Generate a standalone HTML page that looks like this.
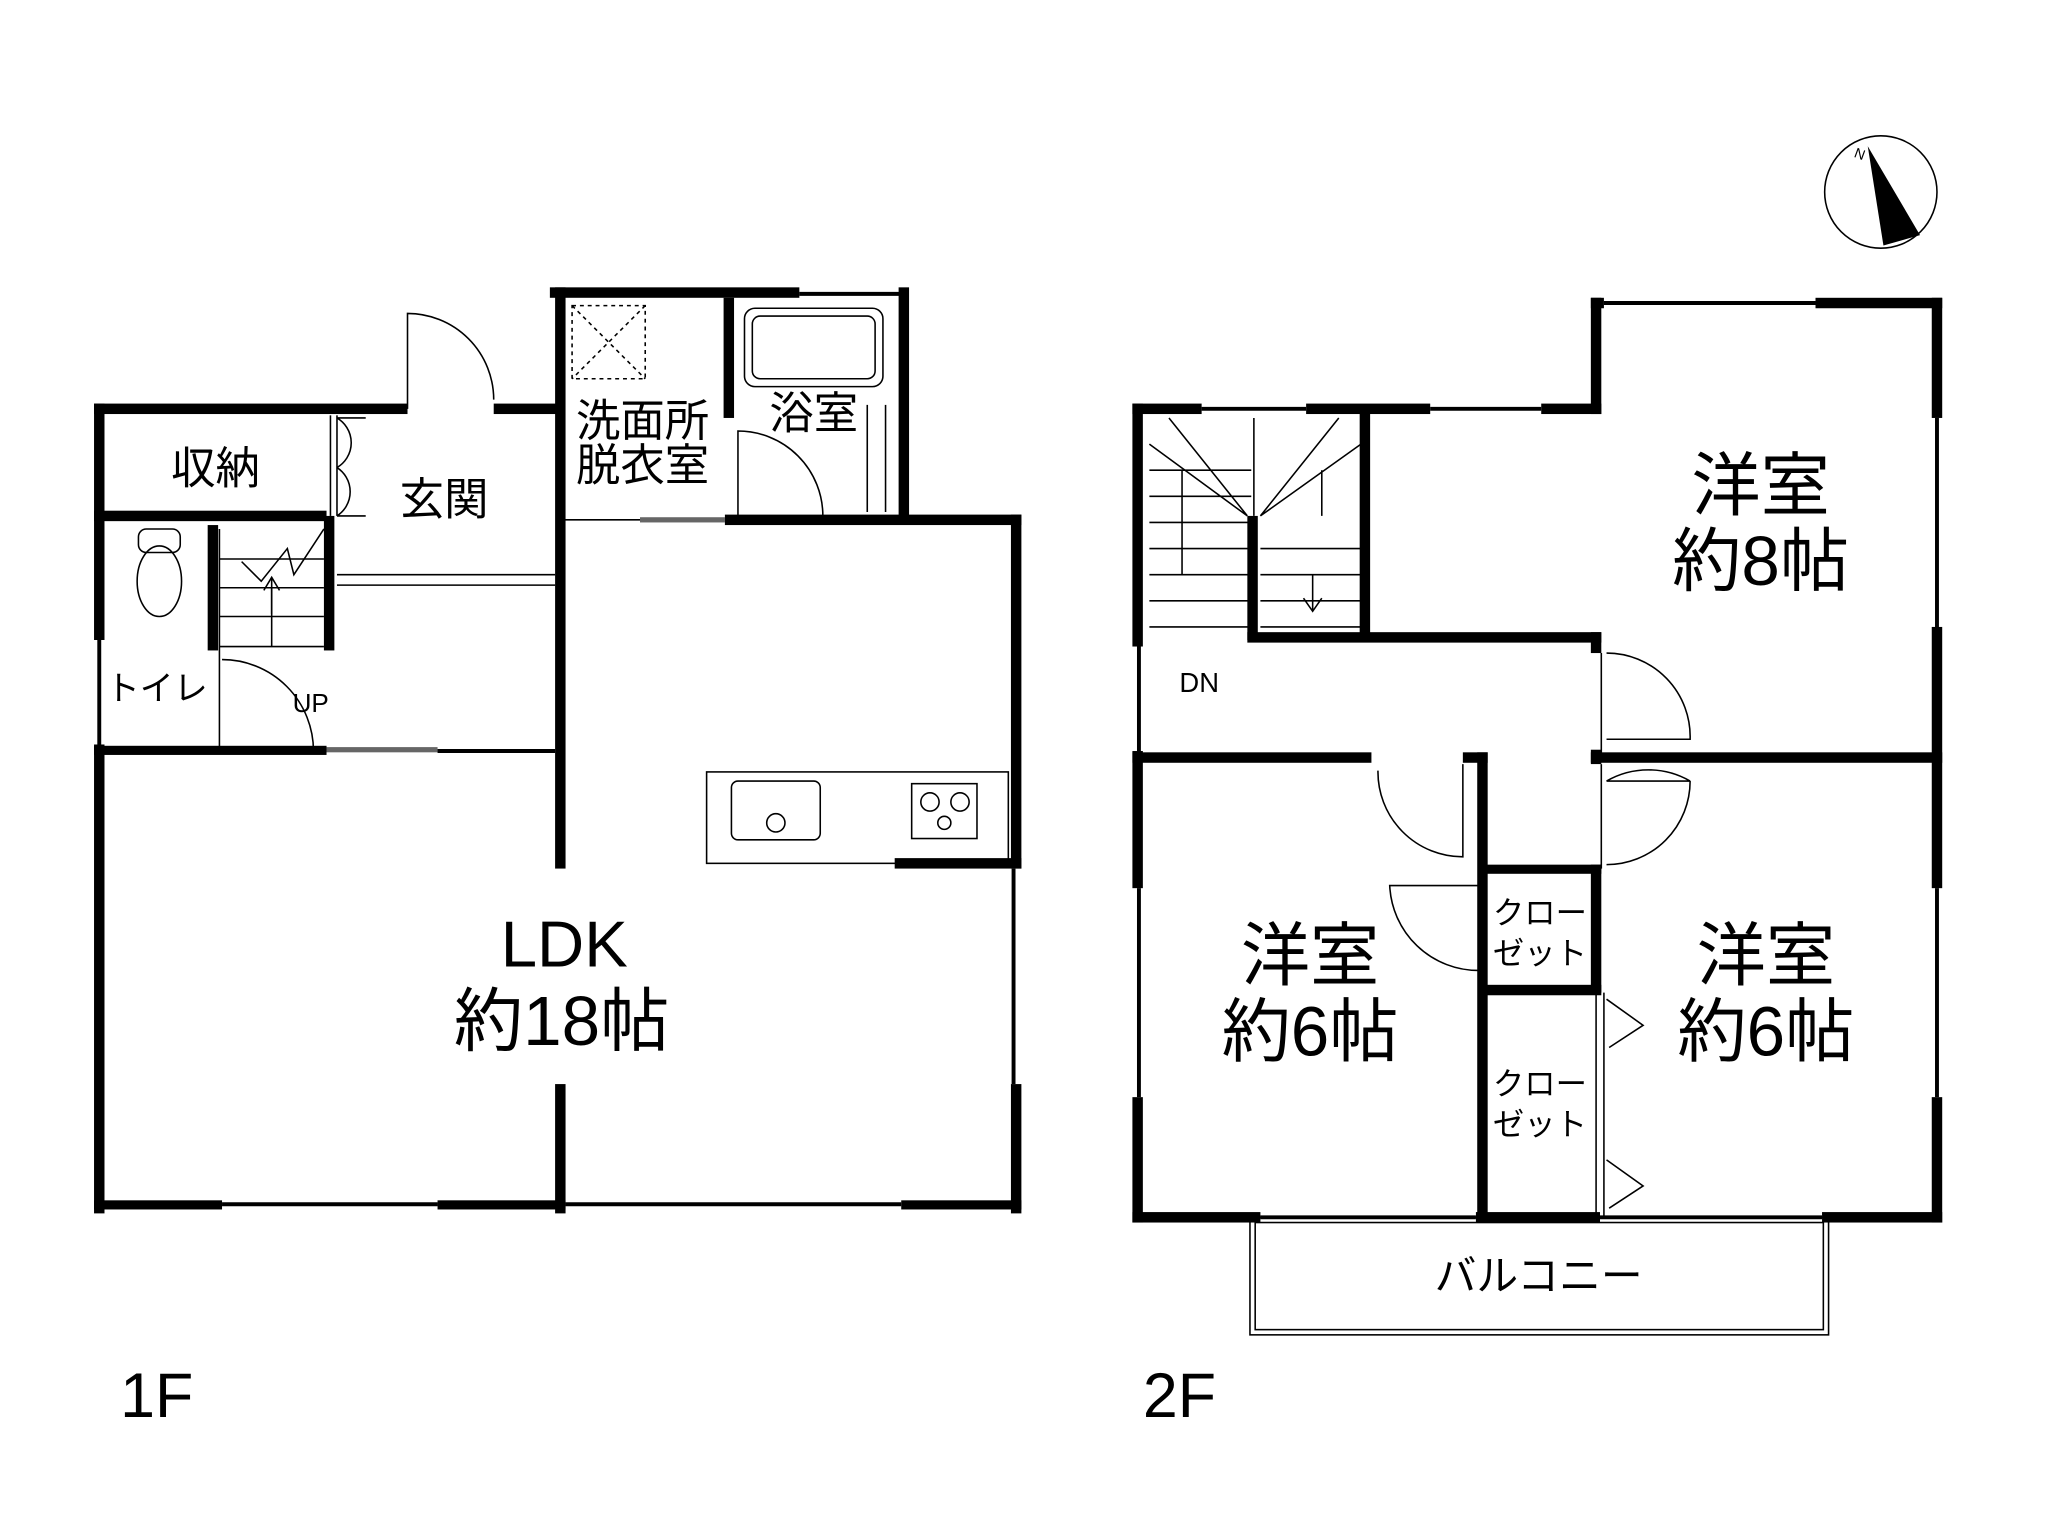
<!DOCTYPE html>
<html><head><meta charset="utf-8"><style>
html,body{margin:0;padding:0;background:#fff;}
svg{display:block;}
text{font-family:"Liberation Sans","Noto Sans CJK JP",sans-serif;fill:#000;}
</style></head><body>
<svg width="2048" height="1536" viewBox="0 0 1568 1176" preserveAspectRatio="xMinYMin meet" xmlns="http://www.w3.org/2000/svg">
<rect width="1568" height="1176" fill="#fff"/>
<g fill="none" stroke="#000" stroke-width="1.2">
<line x1="76" y1="490" x2="76" y2="570" stroke-width="3"/>
<line x1="170" y1="922" x2="335" y2="922" stroke-width="3"/>
<line x1="433" y1="922" x2="690" y2="922" stroke-width="3"/>
<line x1="776" y1="665" x2="776" y2="830" stroke-width="3"/>
<line x1="612" y1="225" x2="692" y2="225" stroke-width="3"/>
<line x1="335" y1="575" x2="425" y2="575" stroke-width="3"/>
<line x1="258" y1="440" x2="425" y2="440"/><line x1="258" y1="448" x2="425" y2="448"/>
<line x1="429" y1="398" x2="490" y2="398"/>
<line x1="253" y1="318" x2="253" y2="395"/><line x1="258" y1="318" x2="258" y2="395"/>
<path d="M258 320 A22 22 0 0 1 258 358 M258 358 A22 22 0 0 1 258 395 M258 320 L280 320 M258 395 L280 395"/>
<path d="M312 313 L312 240 A66 66 0 0 1 378 306"/>
<path d="M565 395 L565 330 A65 65 0 0 1 630 395"/>
<rect x="570" y="236" width="106" height="60" rx="8"/>
<rect x="576" y="242" width="94" height="48" rx="6"/>
<line x1="664" y1="310" x2="664" y2="392"/><line x1="678" y1="310" x2="678" y2="392"/>
<rect x="438" y="234" width="56" height="56" stroke-dasharray="3 3"/>
<path d="M438 234 L494 290 M494 234 L438 290" stroke-dasharray="3 3"/>
<rect x="106" y="405" width="32" height="18" rx="6"/>
<ellipse cx="122" cy="445" rx="17" ry="27"/>
<line x1="168" y1="405" x2="168" y2="575"/>
<path d="M168 428 L248 428 M168 450 L248 450 M168 472 L248 472 M208 450 L208 495 M168 495 L248 495"/>
<path d="M208 470 L208 442 M202 452 L208 442 L214 452 M185 430 L200 445 L220 420 L225 440 L248 405"/>
<path d="M170 505 A70 70 0 0 1 240 575"/>
<rect x="541" y="591" width="231" height="70"/>
<rect x="560" y="598" width="68" height="45" rx="5"/>
<circle cx="594" cy="630" r="7"/>
<rect x="698" y="600" width="50" height="42"/>
<circle cx="712" cy="614" r="7"/><circle cx="735" cy="614" r="7"/><circle cx="723" cy="630" r="5"/>
<line x1="920" y1="313" x2="1000" y2="313" stroke-width="3"/>
<line x1="1095" y1="313" x2="1180" y2="313" stroke-width="3"/>
<line x1="1228" y1="232" x2="1390" y2="232" stroke-width="3"/>
<line x1="1483" y1="320" x2="1483" y2="480" stroke-width="3"/>
<line x1="1483" y1="680" x2="1483" y2="840" stroke-width="3"/>
<line x1="872" y1="495" x2="872" y2="575" stroke-width="3"/>
<line x1="872" y1="680" x2="872" y2="840" stroke-width="3"/>
<line x1="965" y1="932" x2="1130" y2="932" stroke-width="3"/>
<line x1="1225" y1="932" x2="1395" y2="932" stroke-width="3"/>
<rect x="957" y="932" width="443" height="90"/>
<rect x="961" y="936" width="435" height="82"/>
<path d="M880 360 L958 360 M880 380 L958 380 M880 400 L958 400 M880 420 L958 420 M880 440 L958 440 M880 460 L958 460 M880 480 L958 480"/>
<path d="M965 420 L1042 420 M965 440 L1042 440 M965 460 L1042 460 M965 480 L1042 480"/>
<path d="M960 320 L960 395 M895 320 L955 395 M1025 320 L965 395 M880 340 L955 395 M1042 340 L965 395 M905 360 L905 440 M1012 360 L1012 395"/>
<path d="M1005 440 L1005 468 M998 458 L1005 468 L1012 458"/>
<path d="M1226 500 L1226 578 M1230 500 A64 64 0 0 1 1294 566 L1230 566"/>
<path d="M1226 585 L1226 665 M1230 598 A64 64 0 0 1 1294 598 M1294 598 A64 64 0 0 1 1230 662 M1230 598 L1294 598"/>
<path d="M1120 585 L1120 656 A65 65 0 0 1 1055 590"/>
<path d="M1132 680 L1132 743 A68 68 0 0 1 1064 678 L1132 678"/>
<path d="M1222 760 L1222 932 M1228 760 L1228 932 M1230 765 L1258 785 L1232 802 M1230 888 L1258 908 L1232 925"/>
<circle cx="1440" cy="147" r="43"/>
</g>
<polygon points="1430,112 1442,188 1470,180" fill="#000"/>
<text x="1420" y="122" font-size="11" transform="rotate(20 1425 118)">N</text>
<g fill="#000">
<rect x="72" y="309" width="240" height="8"/>
<rect x="378" y="309" width="51" height="8"/>
<rect x="72" y="309" width="8" height="181"/>
<rect x="72" y="570" width="8" height="359"/>
<rect x="72" y="391" width="178" height="8"/>
<rect x="421" y="220" width="191" height="8"/>
<rect x="688" y="220" width="8" height="178"/>
<rect x="554" y="228" width="8" height="92"/>
<rect x="425" y="220" width="8" height="445"/>
<rect x="425" y="830" width="8" height="99"/>
<rect x="555" y="394" width="227" height="8"/>
<rect x="774" y="394" width="8" height="271"/>
<rect x="774" y="830" width="8" height="99"/>
<rect x="685" y="657" width="97" height="8"/>
<rect x="72" y="919" width="98" height="7"/><rect x="335" y="919" width="98" height="7"/><rect x="690" y="919" width="92" height="7"/>
<rect x="159" y="402" width="8" height="96"/>
<rect x="248" y="395" width="8" height="103"/>
<rect x="72" y="571" width="178" height="7"/>
<rect x="250" y="572" width="85" height="4" opacity="0.6"/>
<rect x="490" y="396" width="65" height="4" opacity="0.6"/>
<rect x="867" y="309" width="53" height="8"/><rect x="1000" y="309" width="95" height="8"/><rect x="1180" y="309" width="46" height="8"/>
<rect x="1218" y="228" width="8" height="89"/>
<rect x="1218" y="228" width="10" height="8"/><rect x="1390" y="228" width="97" height="8"/>
<rect x="1479" y="228" width="8" height="92"/><rect x="1479" y="480" width="8" height="200"/><rect x="1479" y="840" width="8" height="96"/>
<rect x="867" y="309" width="8" height="186"/><rect x="867" y="575" width="8" height="105"/><rect x="867" y="840" width="8" height="96"/>
<rect x="867" y="928" width="98" height="8"/><rect x="1130" y="928" width="95" height="8"/><rect x="1395" y="928" width="92" height="8"/>
<rect x="1041" y="313" width="8" height="177"/>
<rect x="955" y="395" width="8" height="95"/>
<rect x="955" y="484" width="271" height="8"/>
<rect x="1218" y="484" width="8" height="16"/>
<rect x="1218" y="574" width="8" height="11"/>
<rect x="867" y="576" width="183" height="8"/><rect x="1120" y="576" width="19" height="8"/>
<rect x="1131" y="576" width="8" height="356"/>
<rect x="1218" y="576" width="269" height="8"/>
<rect x="1135" y="662" width="91" height="7"/>
<rect x="1218" y="662" width="8" height="98"/>
<rect x="1135" y="754" width="91" height="8"/>
</g>
<text x="165" y="370" font-size="34" text-anchor="middle">収納</text>
<text x="340" y="394" font-size="34" text-anchor="middle">玄関</text>
<text x="492" y="334" font-size="34" text-anchor="middle">洗面所</text>
<text x="492" y="368" font-size="34" text-anchor="middle">脱衣室</text>
<text x="623" y="328" font-size="34" text-anchor="middle">浴室</text>
<text x="120" y="536" font-size="26" text-anchor="middle">トイレ</text>
<text x="224" y="545" font-size="20">UP</text>
<text x="432" y="740" font-size="50" text-anchor="middle">LDK</text>
<text x="430" y="800" font-size="53" text-anchor="middle">約18帖</text>
<text x="1348" y="390" font-size="53" text-anchor="middle">洋室</text>
<text x="1348" y="448" font-size="53" text-anchor="middle">約8帖</text>
<text x="1003" y="750" font-size="53" text-anchor="middle">洋室</text>
<text x="1003" y="808" font-size="53" text-anchor="middle">約6帖</text>
<text x="1352" y="750" font-size="53" text-anchor="middle">洋室</text>
<text x="1352" y="808" font-size="53" text-anchor="middle">約6帖</text>
<text x="1179" y="707" font-size="24" text-anchor="middle">クロー</text>
<text x="1179" y="738" font-size="24" text-anchor="middle">ゼット</text>
<text x="1179" y="838" font-size="24" text-anchor="middle">クロー</text>
<text x="1179" y="869" font-size="24" text-anchor="middle">ゼット</text>
<text x="903" y="530" font-size="21">DN</text>
<text x="1178" y="988" font-size="32" text-anchor="middle">バルコニー</text>
<text x="92" y="1085" font-size="48">1F</text>
<text x="875" y="1085" font-size="48">2F</text>
</svg>
</body></html>
